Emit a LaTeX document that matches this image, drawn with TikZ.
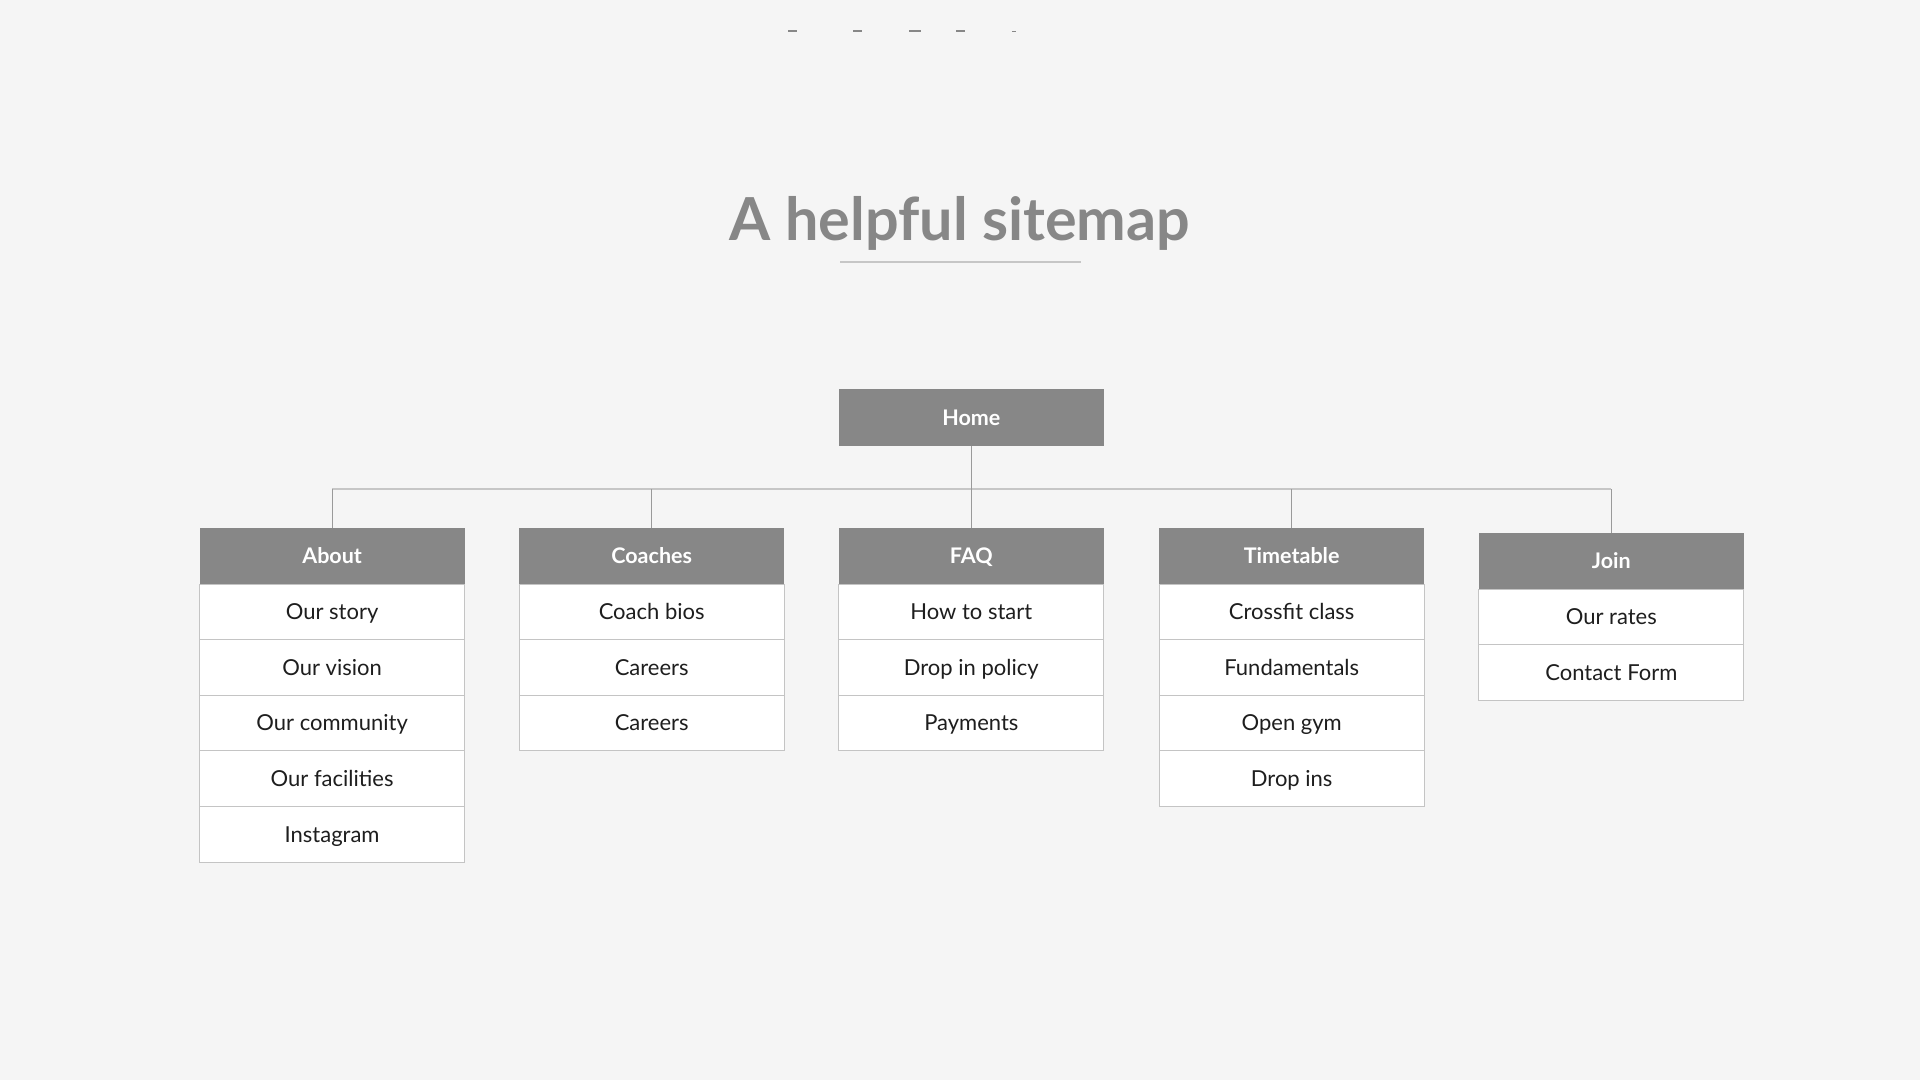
\documentclass[tikz,border=0pt]{standalone}
\usepackage{fontspec}
\setmainfont{Lato}
\definecolor{bg}{HTML}{F5F5F5}
\definecolor{hdrgray}{HTML}{878787}
\definecolor{itemline}{HTML}{C4C4C4}
\definecolor{trunkline}{HTML}{C6C6C6}
\definecolor{stemline}{HTML}{9A9A9A}
\definecolor{itemtext}{HTML}{1E1E1E}
\definecolor{titlegray}{HTML}{878787}
\begin{document}
\begin{tikzpicture}[x=1pt,y=-1pt,
  hdr/.style={fill=hdrgray, text=white, minimum width=265pt, minimum height=56.5pt,
    inner sep=0pt, outer sep=0pt, text height=15.5pt, text depth=0pt,
    font=\fontsize{21.5}{21.5}\selectfont\bfseries, anchor=north west},
  item/.style={draw=itemline, line width=1pt, fill=white, minimum width=265pt,
    minimum height=55.6pt, inner sep=0pt, outer sep=0pt, text height=15.8pt, text depth=0pt,
    text=itemtext, font=\fontsize{22}{22}\selectfont, anchor=north},
  stem/.style={draw=stemline, line width=1pt},
  trunk/.style={draw=trunkline, line width=2.5pt},
  dashmark/.style={fill=titlegray, draw=none}
]
\useasboundingbox[fill=bg] (0,0) rectangle (1920,1080);

% clipped remnants of text at top edge
\fill[dashmark] (787.5,30) rectangle (796.5,32);
\fill[dashmark] (852.5,30) rectangle (861.5,32);
\fill[dashmark] (909,29.5) rectangle (921,32);
\fill[dashmark] (955.5,30) rectangle (964.5,32);
\fill[dashmark] (1012,30.5) rectangle (1016,32);

% title
\node[anchor=base, text=titlegray, inner sep=0pt,
  font=\fontsize{59.3}{59.3}\selectfont\bfseries] (title) at (960,240) {A helpful sitemap};
\draw[draw=trunkline, line width=2.5pt] (840,262) -- (1081,262);

% home
\node[hdr] (home) at (838.8,389.4) {Home};

% columns
\node[hdr] (about) at (199.6,527.5) {About};
\node[item] (about1) at (about.south) {Our story};
\node[item] (about2) at (about1.south) {Our vision};
\node[item] (about3) at (about2.south) {Our community};
\node[item] (about4) at (about3.south) {Our facilities};
\node[item] (about5) at (about4.south) {Instagram};

\node[hdr] (coaches) at (519.2,527.5) {Coaches};
\node[item] (coaches1) at (coaches.south) {Coach bios};
\node[item] (coaches2) at (coaches1.south) {Careers};
\node[item] (coaches3) at (coaches2.south) {Careers};

\node[hdr] (faq) at (838.8,527.5) {FAQ};
\node[item] (faq1) at (faq.south) {How to start};
\node[item] (faq2) at (faq1.south) {Drop in policy};
\node[item] (faq3) at (faq2.south) {Payments};

\node[hdr] (time) at (1159.2,527.5) {Timetable};
\node[item] (time1) at (time.south) {Crossfit class};
\node[item] (time2) at (time1.south) {Fundamentals};
\node[item] (time3) at (time2.south) {Open gym};
\node[item] (time4) at (time3.south) {Drop ins};

\node[hdr] (join) at (1478.8,532.5) {Join};
\node[item] (join1) at (join.south) {Our rates};
\node[item] (join2) at (join1.south) {Contact Form};

% connectors
\coordinate (trunk) at (971.6,489);
\draw[trunk] (about.north |- trunk) -- (join.north |- trunk);
\draw[stem] (home.south) -- (faq.north);
\draw[stem] (about.north |- trunk) -- (about.north);
\draw[stem] (coaches.north |- trunk) -- (coaches.north);
\draw[stem] (time.north |- trunk) -- (time.north);
\draw[stem] (join.north |- trunk) -- (join.north);
\end{tikzpicture}
\end{document}
